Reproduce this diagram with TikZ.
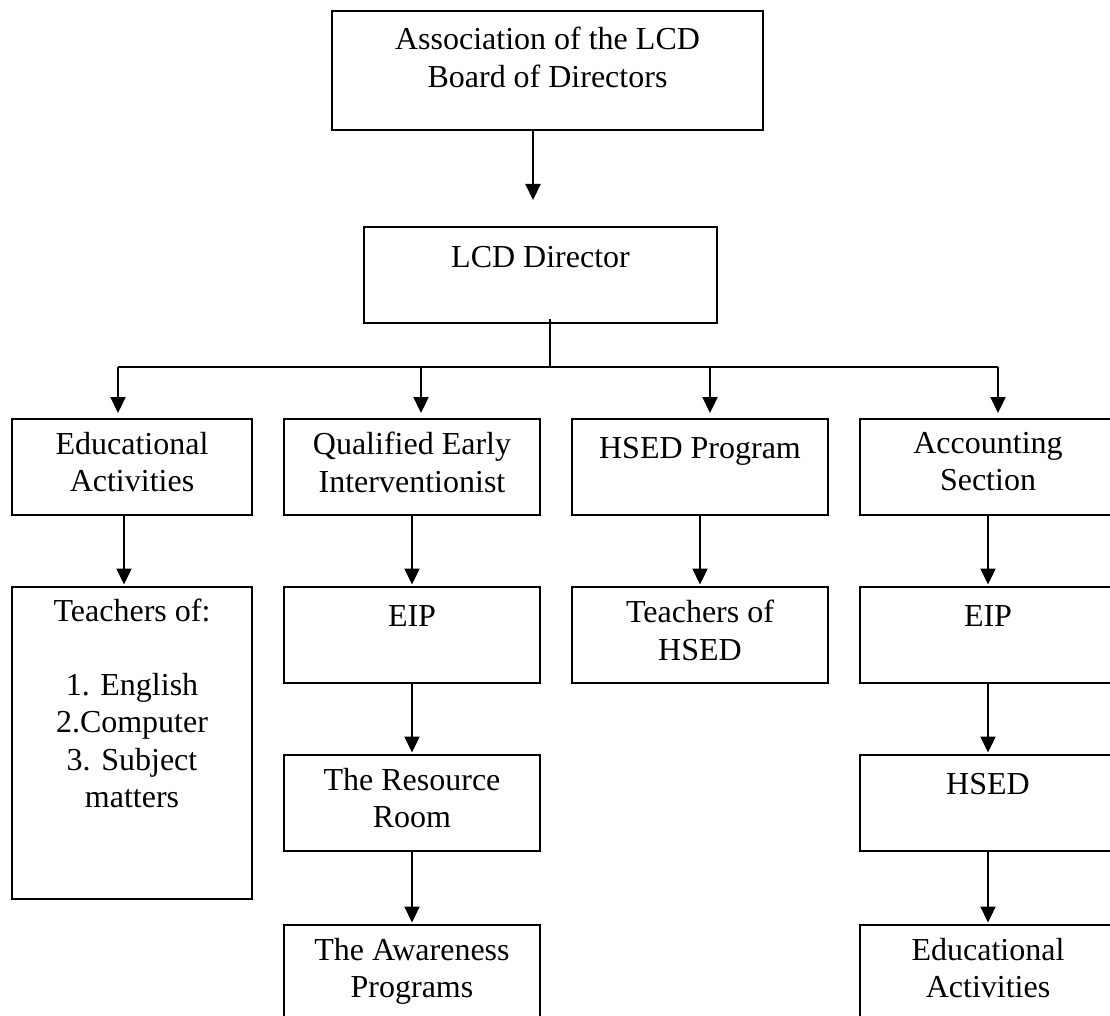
\documentclass[tikz,border=0pt]{standalone}
\usepackage{fontspec}
\setmainfont{Liberation Serif}
\usetikzlibrary{arrows.meta,calc}
\begin{document}
\begin{tikzpicture}[x=1pt,y=-1pt,
  box/.style={draw=black, line width=2pt, inner sep=0pt, anchor=north west, minimum height=96pt},
  lbl/.style={anchor=north, inner sep=0pt, align=center, font=\fontsize{32}{37.5}\selectfont, execute at begin node=\strut},
  arr/.style={line width=2.2pt, -{Triangle[width=15pt,length=16pt]}},
  barline/.style={line width=1.8pt}]
\clip (0,0) rectangle (1110,1016);
\fill[white] (0,0) rectangle (1110,1016);

% boxes
\node[box, minimum width=431pt, minimum height=119pt] (top) at (331,10) {};
\node[box, minimum width=353pt] (dir) at (363,226) {};
\node[box, minimum width=240pt] (edu) at (11,418) {};
\node[box, minimum width=256pt] (qual) at (283,418) {};
\node[box, minimum width=256pt] (hsed) at (571,418) {};
\node[box, minimum width=256pt] (acct) at (859,418) {};
\node[box, minimum width=240pt, minimum height=312pt] (teach) at (11,586) {};
\node[box, minimum width=256pt] (eipa) at (283,586) {};
\node[box, minimum width=256pt] (thsed) at (571,586) {};
\node[box, minimum width=256pt] (eipb) at (859,586) {};
\node[box, minimum width=256pt] (res) at (283,754) {};
\node[box, minimum width=256pt] (hsedb) at (859,754) {};
\node[box, minimum width=256pt] (aware) at (283,924) {};
\node[box, minimum width=256pt] (edub) at (859,924) {};

% labels
\node[lbl] (topT) at ([yshift=-17pt]top.north) {Association of the LCD\\Board of Directors};
\node[lbl] (dirT) at ([yshift=-15pt]dir.north) {LCD Director};
\node[lbl] (eduT) at ([yshift=-14pt]edu.north) {Educational\\Activities};
\node[lbl] (qualT) at ([yshift=-14pt]qual.north) {Qualified Early\\Interventionist};
\node[lbl] (hsedT) at ([yshift=-14pt]hsed.north) {HSED Program};
\node[lbl] (acctT) at ([yshift=-14pt]acct.north) {Accounting\\Section};
\node[lbl] (teachT) at ([yshift=-13pt]teach.north) {Teachers of:\\[36pt]1. English\\2.Computer\\3. Subject\\matters};
\node[lbl] (eipaT) at ([yshift=-14pt]eipa.north) {EIP};
\node[lbl] (thsedT) at ([yshift=-14pt]thsed.north) {Teachers of\\HSED};
\node[lbl] (eipbT) at ([yshift=-14pt]eipb.north) {EIP};
\node[lbl] (resT) at ([yshift=-14pt]res.north) {The Resource\\Room};
\node[lbl] (hsedbT) at ([yshift=-14pt]hsedb.north) {HSED};
\node[lbl] (awareT) at ([yshift=-14pt]aware.north) {The Awareness\\Programs};
\node[lbl] (edubT) at ([yshift=-14pt]edub.north) {Educational\\Activities};

% connectors
\draw[arr, shorten >=26pt] ([xshift=-14.5pt]top.south) -- ([xshift=-14.5pt]top.south |- dir.north);
\coordinate (hub) at ($(dir.south)+(9.5,43)$);
\draw[barline] ([xshift=9.5pt,yshift=5pt]dir.south) -- (hub);
\draw[barline] ([xshift=-14pt]edu.north |- hub) -- ([xshift=10pt]acct.north |- hub);
\foreach \n/\dx in {edu/-14,qual/9,hsed/10,acct/10}
  \draw[arr, shorten >=5pt] ([xshift=\dx pt]\n.north |- hub) -- ([xshift=\dx pt]\n.north);

\draw[arr, shorten >=1.5pt] ([xshift=-8pt]edu.south) -- ([xshift=-8pt]teach.north);
\draw[arr, shorten >=1.5pt] (qual.south) -- (eipa.north);
\draw[arr, shorten >=1.5pt] (hsed.south) -- (thsed.north);
\draw[arr, shorten >=1.5pt] (acct.south) -- (eipb.north);
\draw[arr, shorten >=1.5pt] (eipa.south) -- (res.north);
\draw[arr, shorten >=1.5pt] (res.south) -- (aware.north);
\draw[arr, shorten >=1.5pt] (eipb.south) -- (hsedb.north);
\draw[arr, shorten >=1.5pt] (hsedb.south) -- (edub.north);
\end{tikzpicture}
\end{document}
